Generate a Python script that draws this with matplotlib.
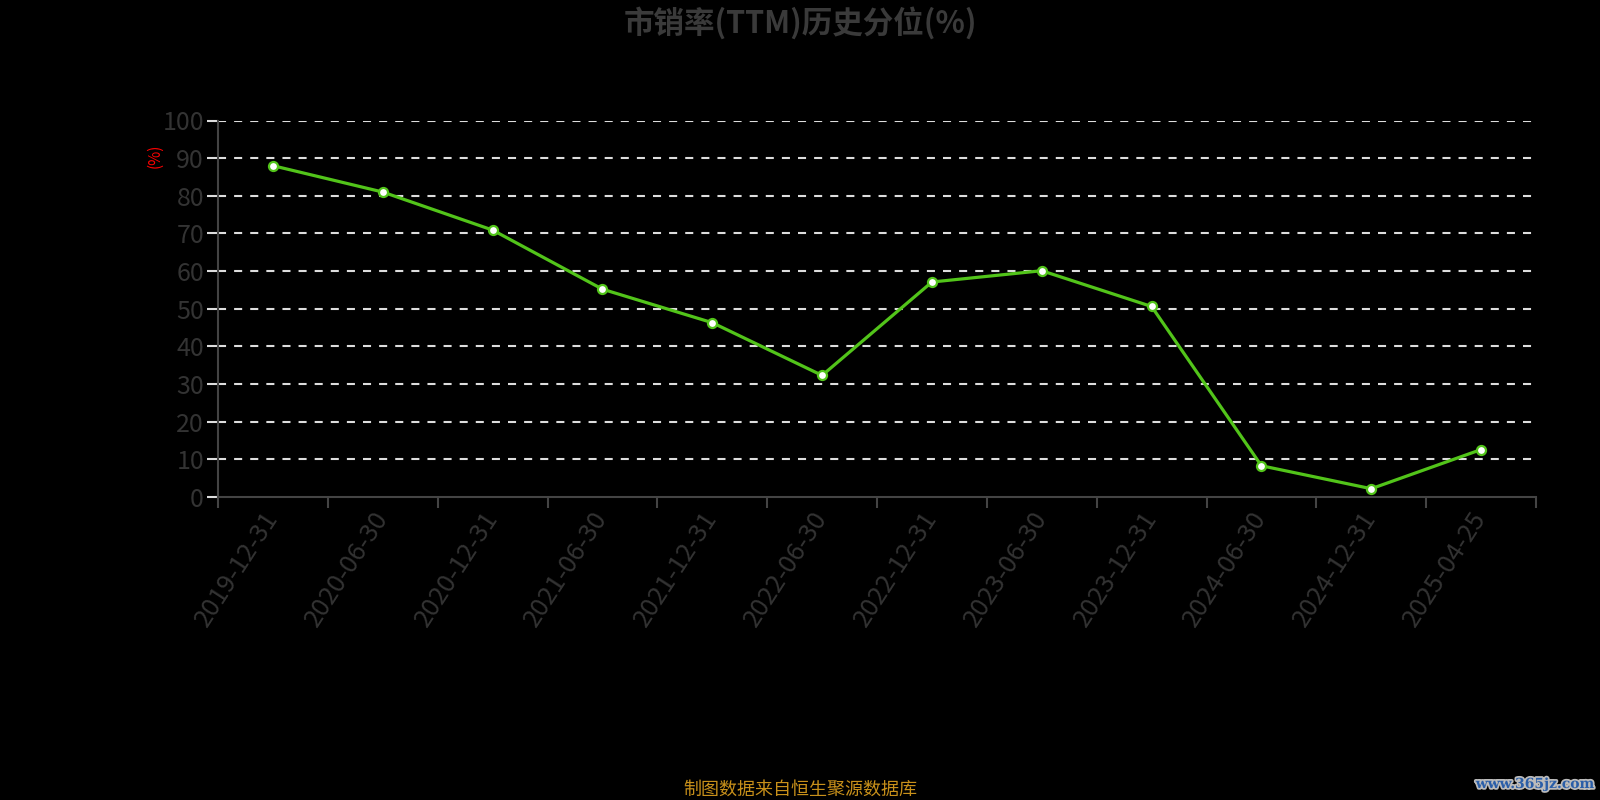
import matplotlib
matplotlib.use("Agg")
import matplotlib.pyplot as plt
import matplotlib.patheffects as pe
import numpy as np

plt.rcParams['font.family'] = ['Noto Sans CJK SC', 'DejaVu Sans']
plt.rcParams['lines.scale_dashes'] = False

dates = ["2019-12-31", "2020-06-30", "2020-12-31", "2021-06-30", "2021-12-31",
         "2022-06-30", "2022-12-31", "2023-06-30", "2023-12-31", "2024-06-30",
         "2024-12-31", "2025-04-25"]
pct = [88.0, 81.0, 70.9, 55.2, 46.3, 32.3, 57.1, 60.1, 50.6, 8.3, 2.2, 12.6]

fig = plt.figure(figsize=(16, 8), dpi=100, facecolor="black")
ax = fig.add_axes([218 / 1600, 1 - 497 / 800, (1536 - 218) / 1600, (497 - 120.5) / 800])
ax.set_facecolor("black")

x = np.arange(len(dates))
ax.set_xlim(-0.5, len(dates) - 0.5)
ax.set_ylim(0, 100)

for v in range(10, 101, 10):
    ax.axhline(v, color="#dddddd", linewidth=1.5, linestyle=(0, (5.8, 5.8)), zorder=1)

ax.plot(x, pct, color="#52c41a", linewidth=2.3, zorder=3,
        marker="o", markersize=6.5, markerfacecolor="white",
        markeredgecolor="#52c41a", markeredgewidth=1.6)

for s in ["top", "right"]:
    ax.spines[s].set_visible(False)
for s in ["left", "bottom"]:
    ax.spines[s].set_color("#444444")
    ax.spines[s].set_linewidth(1.5)

ax.set_yticks(range(0, 101, 10))
ax.tick_params(axis="y", colors="#dddddd", length=8, width=1.5, labelsize=18,
               labelcolor="#333333", pad=2)

ax.set_xticks(np.arange(-0.5, len(dates), 1.0))
ax.set_xticklabels([])
ax.tick_params(axis="x", which="major", colors="#444444", length=8, width=1.5)
ax.set_xticks(x, minor=True)
ax.set_xticklabels(dates, minor=True, rotation=57, ha="right", va="center",
                   rotation_mode="anchor", fontsize=18.5, color="#333333")
ax.tick_params(axis="x", which="minor", length=0, pad=12)

fig.text(155 / 1600, 1 - 156 / 800, "(%)", color="red", rotation=90,
         fontsize=11, ha="center", va="center")

fig.text(0.5, 1 - 23 / 800, "市销率(TTM)历史分位(%)", color="#3a3a3a",
         fontsize=22, fontweight="bold", ha="center", va="center")

fig.text(0.5, 1 - 790 / 800, "制图数据来自恒生聚源数据库", color="#c8901a",
         fontsize=13, ha="center", va="center")

fig.text(1535 / 1600, 1 - 784 / 800, "www.365jz.com", color="#2a5ea8",
         fontsize=10, fontweight="bold", family="DejaVu Serif",
         ha="center", va="center",
         path_effects=[pe.withStroke(linewidth=2.5, foreground="#bbbbbb")])

fig.savefig("out.png", facecolor="black")
